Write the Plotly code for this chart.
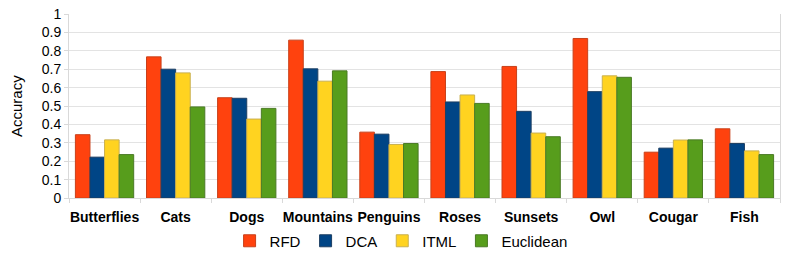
import plotly.graph_objects as go

categories = ["Butterflies", "Cats", "Dogs", "Mountains", "Penguins", "Roses", "Sunsets", "Owl", "Cougar", "Fish"]
rfd = [0.344, 0.767, 0.545, 0.858, 0.358, 0.687, 0.715, 0.867, 0.249, 0.376]
dca = [0.222, 0.700, 0.542, 0.702, 0.347, 0.522, 0.471, 0.578, 0.271, 0.296]
itml = [0.316, 0.680, 0.429, 0.635, 0.291, 0.560, 0.353, 0.664, 0.315, 0.256]
euclid = [0.236, 0.495, 0.487, 0.691, 0.296, 0.514, 0.333, 0.656, 0.316, 0.236]

series = [
    ("RFD", rfd, "#FF420E", "#c8401a"),
    ("DCA", dca, "#004586", "#1d3f63"),
    ("ITML", itml, "#FFD320", "#c9b050"),
    ("Euclidean", euclid, "#579D1C", "#4a7a25"),
]
y_ticks = [0, 0.1, 0.2, 0.3, 0.4, 0.5, 0.6, 0.7, 0.8, 0.9, 1]
y_ticklabels = ["0", "0.1", "0.2", "0.3", "0.4", "0.5", "0.6", "0.7", "0.8", "0.9", "1"]

fig = go.Figure()
for name, vals, color, edge in series:
    fig.add_trace(go.Bar(
        name=name, x=categories, y=vals,
        marker=dict(color=color, line=dict(color=edge, width=1)),
    ))

font_family = "Liberation Sans, Arial, sans-serif"
fig.update_layout(
    width=788, height=260,
    margin=dict(l=69, r=8, t=14, b=62, autoexpand=False),
    barmode="group", bargap=0.18, bargroupgap=0,
    plot_bgcolor="white", paper_bgcolor="white",
    font=dict(family=font_family, size=14, color="#000000"),
    showlegend=True,
    legend=dict(
        orientation="h", xref="container", yref="container",
        x=0.509, xanchor="center", y=0.073, yanchor="middle",
        font=dict(size=15), itemwidth=30, tracegroupgap=0,
    ),
    xaxis=dict(
        type="category",
        automargin=False,
        tickangle=0,
        showgrid=False,
        showline=True, linecolor="#d9d9d9", linewidth=1,
        ticks="outside", ticklen=4, tickcolor="#d9d9d9",
        tickson="boundaries",
        ticklabelstandoff=6,
        tickfont=dict(size=14, family=font_family, weight="bold"),
    ),
    yaxis=dict(
        automargin=False,
        range=[0, 1],
        tickvals=y_ticks, ticktext=y_ticklabels,
        ticklabeloverflow="allow",
        showgrid=True, gridcolor="#e3e3e3", gridwidth=1,
        showline=True, linecolor="#d9d9d9", linewidth=1, mirror=True,
        ticks="outside", ticklen=4, tickcolor="#d9d9d9",
        tickfont=dict(size=14),
        zeroline=False,
    ),
    annotations=[dict(
        text="Accuracy", xref="paper", yref="paper",
        x=-53 / 711, y=0.5, xanchor="center", yanchor="middle",
        textangle=-90, showarrow=False, font=dict(size=15),
    )],
)

fig.write_html("out.html", config={"displayModeBar": False},
               post_script="document.body.style.margin='0';")
